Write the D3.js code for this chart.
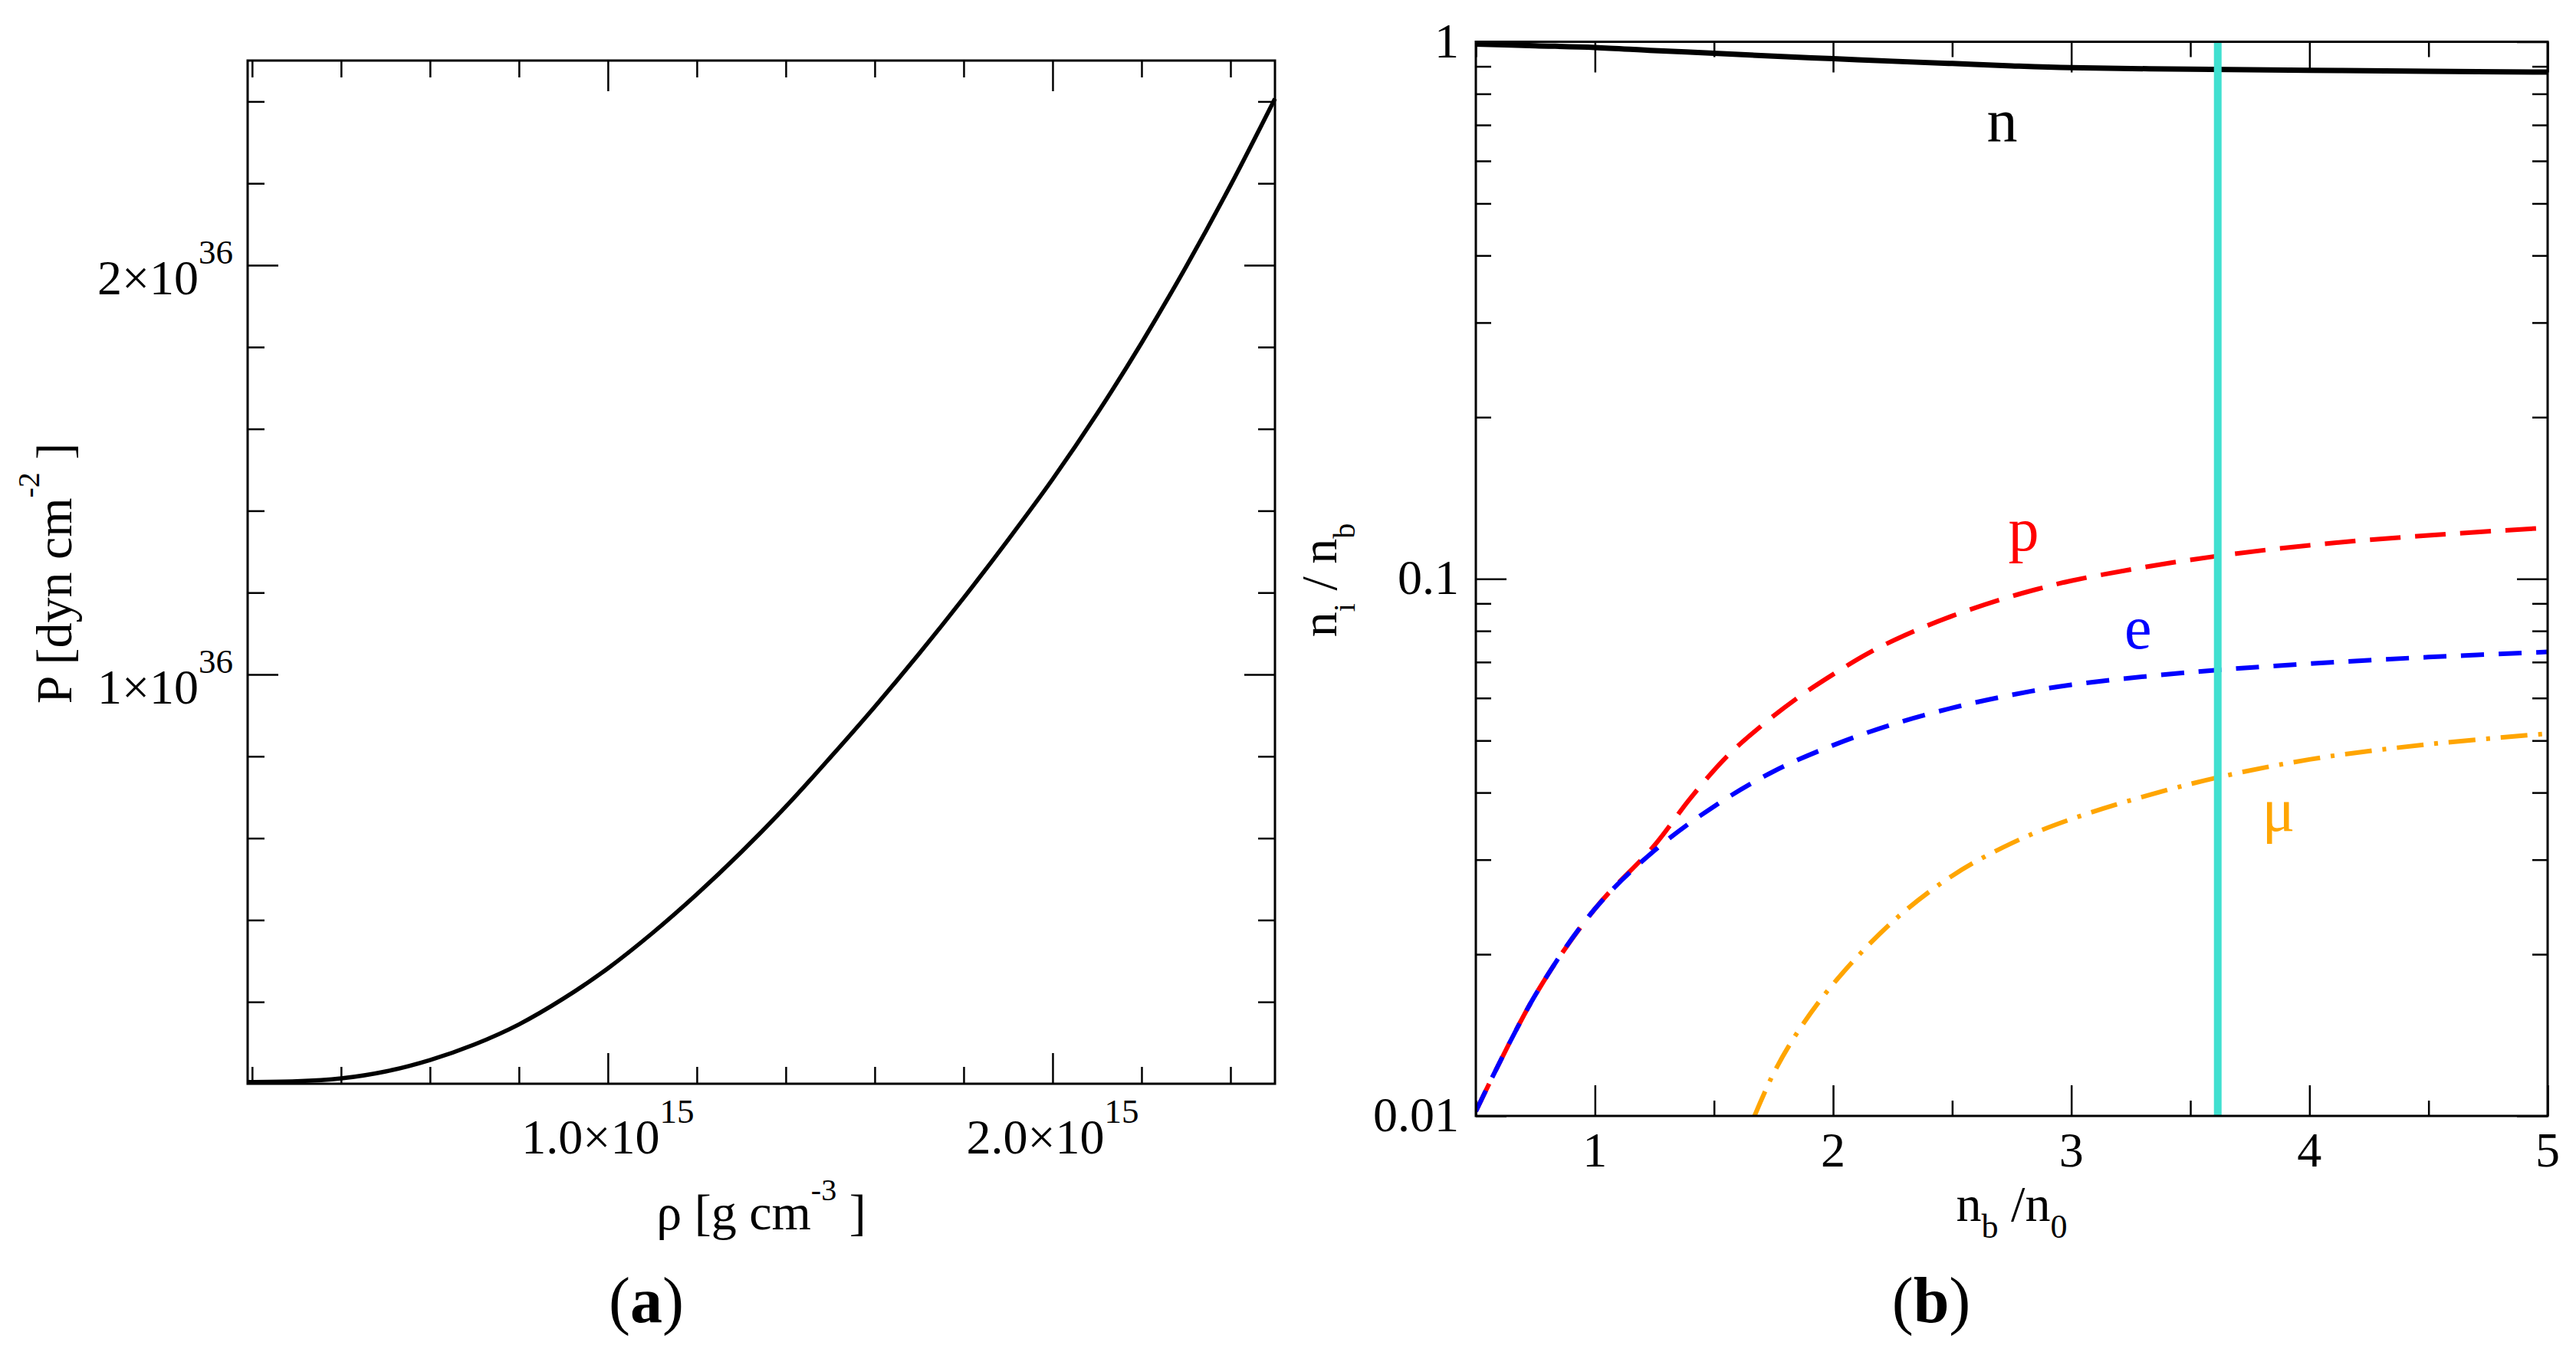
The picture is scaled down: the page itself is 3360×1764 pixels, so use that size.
<!DOCTYPE html>
<html>
<head>
<meta charset="utf-8">
<script src="https://cdn.jsdelivr.net/npm/d3@7"></script>
<style>
  html, body { margin: 0; padding: 0; background: #fff; }
  svg text { font-family: "Liberation Serif", "DejaVu Serif", serif; }
</style>
</head>
<body>
<div id="chart"></div>
<script>
// ---- panel (a): pressure vs density ----
var rhoValues = [0.19, 0.3, 0.4, 0.5, 0.6, 0.7, 0.8, 0.9, 1.0, 1.1, 1.2, 1.3, 1.4, 1.5, 1.6, 1.7, 1.8, 1.9, 2.0, 2.1, 2.2, 2.3, 2.4, 2.5]; // x 1e15 g/cm3
var pressureValues = [0.004, 0.006, 0.013, 0.030, 0.058, 0.096, 0.145, 0.208, 0.282, 0.368, 0.463, 0.566, 0.677, 0.797, 0.921, 1.051, 1.187, 1.329, 1.477, 1.637, 1.810, 1.996, 2.195, 2.407]; // x 1e36
var rhoMajorTicks = [1.0, 2.0];
var rhoMinorTicks = [0.2, 0.4, 0.6, 0.8, 1.2, 1.4, 1.6, 1.8, 2.2, 2.4];
var rhoTickText = ["1.0\u00d710", "2.0\u00d710"];
var pMajorTicks = [1, 2];
var pMinorTicks = [0.2, 0.4, 0.6, 0.8, 1.2, 1.4, 1.6, 1.8, 2.2, 2.4];
var pTickText = ["1\u00d710", "2\u00d710"];

// ---- panel (b): particle fractions ----
var nbGrid = [0.5, 0.75, 1.0, 1.25, 1.5, 1.75, 2.0, 2.25, 2.5, 2.75, 3.0, 3.5, 4.0, 4.5, 5.0];
var fracN = [0.99, 0.983, 0.976, 0.963, 0.952, 0.94, 0.93, 0.92, 0.911, 0.902, 0.895, 0.889, 0.885, 0.881, 0.878];
var fracE = [0.0102, 0.0168, 0.0243, 0.0312, 0.0377, 0.0438, 0.0490, 0.0536, 0.0575, 0.0608, 0.0635, 0.0670, 0.0695, 0.0715, 0.0731];
var nbProton = [0.5, 0.75, 1.0, 1.25, 1.4, 1.55, 1.7, 1.85, 2.0, 2.15, 2.3, 2.5, 2.7, 2.85, 3.0, 3.5, 4.0, 4.5, 5.0];
var fracP = [0.0102, 0.0168, 0.0243, 0.0319, 0.0390, 0.0465, 0.0533, 0.0600, 0.0664, 0.0728, 0.0785, 0.0853, 0.0914, 0.0955, 0.0992, 0.1085, 0.1155, 0.1205, 0.1245];
var nbMuon = [1.67, 1.75, 1.85, 2.0, 2.25, 2.5, 2.75, 3.0, 3.5, 4.0, 4.5, 5.0];
var fracMu = [0.0100, 0.0120, 0.0143, 0.0176, 0.0230, 0.0280, 0.0322, 0.0357, 0.0415, 0.0461, 0.0492, 0.0515];
var nbMarker = 3.615;
var nbMajorTicks = [1, 2, 3, 4, 5];
var nbMinorTicks = [0.5, 1.5, 2.5, 3.5, 4.5];
var fracMajorTicks = [0.01, 0.1, 1];
var fracTickText = ["0.01", "0.1", "1"];
var fracMinorTicks = [0.02, 0.03, 0.04, 0.05, 0.06, 0.07, 0.08, 0.09, 0.2, 0.3, 0.4, 0.5, 0.6, 0.7, 0.8, 0.9];
var curveNames = ["n", "p", "e", "\u03bc"];
var curveLabelNb = [2.71, 2.80, 3.28, 3.87];
var curveLabelFrac = [0.653, 0.113, 0.0743, 0.034];
var curveColors = ["#000000", "#ff0000", "#0000ff", "#ffa500"];

var W = 3360, H = 1764;
var FONT = "'Liberation Serif', 'DejaVu Serif', serif";
var svg = d3.select("#chart").append("svg")
    .attr("width", W)
    .attr("height", H)
    .attr("font-family", FONT);
svg.append("rect").attr("width", W).attr("height", H).attr("fill", "#fff");

var tickFont = 64, supFont = 45;

// draws inward ticks on all four sides of a frame
function frameTicks(g, x, y, xMajor, xMinor, yMajor, yMinor, box, majLen, minLen) {
    var defs = [
        [d3.axisBottom(x), xMajor, majLen, "translate(0," + box.bottom + ")"],
        [d3.axisBottom(x), xMinor, minLen, "translate(0," + box.bottom + ")"],
        [d3.axisTop(x), xMajor, majLen, "translate(0," + box.top + ")"],
        [d3.axisTop(x), xMinor, minLen, "translate(0," + box.top + ")"],
        [d3.axisLeft(y), yMajor, majLen, "translate(" + box.left + ",0)"],
        [d3.axisLeft(y), yMinor, minLen, "translate(" + box.left + ",0)"],
        [d3.axisRight(y), yMajor, majLen, "translate(" + box.right + ",0)"],
        [d3.axisRight(y), yMinor, minLen, "translate(" + box.right + ",0)"]
    ];
    defs.forEach(function(d) {
        var ax = g.append("g")
            .attr("transform", d[3])
            .call(d[0].tickValues(d[1]).tickSize(-d[2]).tickFormat(""));
        ax.select(".domain").remove();
        ax.selectAll("line").attr("stroke", "#000").attr("stroke-width", 2.5);
    });
    g.append("rect")
        .attr("x", box.left).attr("y", box.top)
        .attr("width", box.right - box.left)
        .attr("height", box.bottom - box.top)
        .attr("fill", "none")
        .attr("stroke", "#000")
        .attr("stroke-width", 3);
}

// ================= panel (a) =================
var boxA = {left: 323, right: 1663, top: 79, bottom: 1414};
var xA = d3.scaleLinear().domain([0.19, 2.5]).range([boxA.left, boxA.right]);
var yA = d3.scaleLinear().domain([0, 2.5]).range([boxA.bottom, boxA.top]);
var gA = svg.append("g");

var lineA = d3.line()
    .x(function(d, i) { return xA(rhoValues[i]); })
    .y(function(d) { return yA(d); })
    .curve(d3.curveMonotoneX);

gA.append("path")
    .datum(pressureValues)
    .attr("d", lineA)
    .attr("fill", "none")
    .attr("stroke", "#000")
    .attr("stroke-width", 5.5);

frameTicks(gA, xA, yA, rhoMajorTicks, rhoMinorTicks, pMajorTicks, pMinorTicks, boxA, 40, 22);

// y tick labels with exponent
gA.selectAll(".ylab").data(pMajorTicks).enter().append("text")
    .attr("class", "ylab")
    .attr("x", boxA.left - 19)
    .attr("y", function(d) { return yA(d) + 38; })
    .attr("text-anchor", "end")
    .attr("font-family", FONT)
    .attr("font-size", tickFont)
    .each(function(d, i) {
        var t = d3.select(this);
        t.append("tspan").text(pTickText[i]);
        t.append("tspan").attr("dy", -40).attr("font-size", supFont).text("36");
    });

// x tick labels with exponent
gA.selectAll(".xlab").data(rhoMajorTicks).enter().append("text")
    .attr("class", "xlab")
    .attr("x", function(d) { return xA(d); })
    .attr("y", 1505)
    .attr("text-anchor", "middle")
    .attr("font-family", FONT)
    .attr("font-size", tickFont)
    .each(function(d, i) {
        var t = d3.select(this);
        t.append("tspan").text(rhoTickText[i]);
        t.append("tspan").attr("dy", -40).attr("font-size", supFont).text("15");
    });

// axis titles
var xtA = gA.append("text")
    .attr("x", (boxA.left + boxA.right) / 2)
    .attr("y", 1604)
    .attr("text-anchor", "middle")
    .attr("font-family", FONT)
    .attr("font-size", 66);
xtA.append("tspan").text("\u03c1 [g cm");
xtA.append("tspan").attr("dy", -38).attr("font-size", 40).text("-3");
xtA.append("tspan").attr("dy", 38).text(" ]");

var ytA = gA.append("text")
    .attr("transform", "translate(93,748) rotate(-90)")
    .attr("text-anchor", "middle")
    .attr("font-family", FONT)
    .attr("font-size", 66);
ytA.append("tspan").text("P [dyn cm");
ytA.append("tspan").attr("dy", -42).attr("font-size", 40).text("-2");
ytA.append("tspan").attr("dy", 42).text(" ]");

var capA = svg.append("text")
    .attr("x", 843).attr("y", 1725)
    .attr("text-anchor", "middle")
    .attr("font-family", FONT)
    .attr("font-size", 84);
capA.append("tspan").text("(");
capA.append("tspan").attr("font-weight", "bold").text("a");
capA.append("tspan").text(")");

// ================= panel (b) =================
var boxB = {left: 1925, right: 3323, top: 54.5, bottom: 1456};
var xB = d3.scaleLinear().domain([0.5, 5]).range([boxB.left, boxB.right]);
var yB = d3.scaleLog().domain([0.01, 1]).range([boxB.bottom, boxB.top]);
var gB = svg.append("g");

svg.append("defs").append("clipPath").attr("id", "clipB")
    .append("rect")
    .attr("x", boxB.left).attr("y", boxB.top - 6)
    .attr("width", boxB.right - boxB.left)
    .attr("height", boxB.bottom - boxB.top + 6);

var plotB = gB.append("g").attr("clip-path", "url(#clipB)");

function fracLine(xs) {
    return d3.line()
        .x(function(d, i) { return xB(xs[i]); })
        .y(function(d) { return yB(d); })
        .curve(d3.curveCatmullRom.alpha(0.5));
}

var series = [
    {vals: fracP, xs: nbProton, color: curveColors[1], dash: "40,19", w: 6},
    {vals: fracE, xs: nbGrid, color: curveColors[2], dash: "30,19", w: 6},
    {vals: fracMu, xs: nbMuon, color: curveColors[3], dash: "35,14,5,14", w: 6},
    {vals: fracN, xs: nbGrid, color: curveColors[0], dash: null, w: 7}
];

series.forEach(function(s) {
    plotB.append("path")
        .datum(s.vals)
        .attr("d", fracLine(s.xs))
        .attr("fill", "none")
        .attr("stroke", s.color)
        .attr("stroke-width", s.w)
        .attr("stroke-dasharray", s.dash);
});

plotB.append("line")
    .attr("x1", xB(nbMarker)).attr("x2", xB(nbMarker))
    .attr("y1", yB(1)).attr("y2", yB(0.01))
    .attr("stroke", "#40e0d0")
    .attr("stroke-width", 10);

frameTicks(gB, xB, yB, nbMajorTicks, nbMinorTicks, fracMajorTicks, fracMinorTicks, boxB, 40, 20);

gB.selectAll(".ylab").data(fracMajorTicks).enter().append("text")
    .attr("class", "ylab")
    .attr("x", boxB.left - 22)
    .attr("y", function(d) { return yB(d) + 20; })
    .attr("text-anchor", "end")
    .attr("font-family", FONT)
    .attr("font-size", tickFont)
    .text(function(d, i) { return fracTickText[i]; });

gB.selectAll(".xlab").data(nbMajorTicks).enter().append("text")
    .attr("class", "xlab")
    .attr("x", function(d) { return xB(d); })
    .attr("y", 1522)
    .attr("text-anchor", "middle")
    .attr("font-family", FONT)
    .attr("font-size", tickFont)
    .text(function(d) { return d; });

gB.selectAll(".clab").data(curveNames).enter().append("text")
    .attr("class", "clab")
    .attr("x", function(d, i) { return xB(curveLabelNb[i]); })
    .attr("y", function(d, i) { return yB(curveLabelFrac[i]); })
    .attr("text-anchor", "middle")
    .attr("font-family", FONT)
    .attr("font-size", 80)
    .attr("fill", function(d, i) { return curveColors[i]; })
    .text(function(d) { return d; });

var xtB = gB.append("text")
    .attr("x", (boxB.left + boxB.right) / 2)
    .attr("y", 1593)
    .attr("text-anchor", "middle")
    .attr("font-family", FONT)
    .attr("font-size", 66);
xtB.append("tspan").text("n");
xtB.append("tspan").attr("dy", 22).attr("font-size", 44).text("b");
xtB.append("tspan").attr("dy", -22).text(" /n");
xtB.append("tspan").attr("dy", 22).attr("font-size", 44).text("0");

var ytB = gB.append("text")
    .attr("transform", "translate(1743,757) rotate(-90)")
    .attr("text-anchor", "middle")
    .attr("font-family", FONT)
    .attr("font-size", 66);
ytB.append("tspan").text("n");
ytB.append("tspan").attr("dy", 24).attr("font-size", 40).text("i");
ytB.append("tspan").attr("dy", -24).text(" / n");
ytB.append("tspan").attr("dy", 24).attr("font-size", 40).text("b");

var capB = svg.append("text")
    .attr("x", 2519).attr("y", 1725)
    .attr("text-anchor", "middle")
    .attr("font-family", FONT)
    .attr("font-size", 84);
capB.append("tspan").text("(");
capB.append("tspan").attr("font-weight", "bold").text("b");
capB.append("tspan").text(")");
</script>
</body>
</html>
